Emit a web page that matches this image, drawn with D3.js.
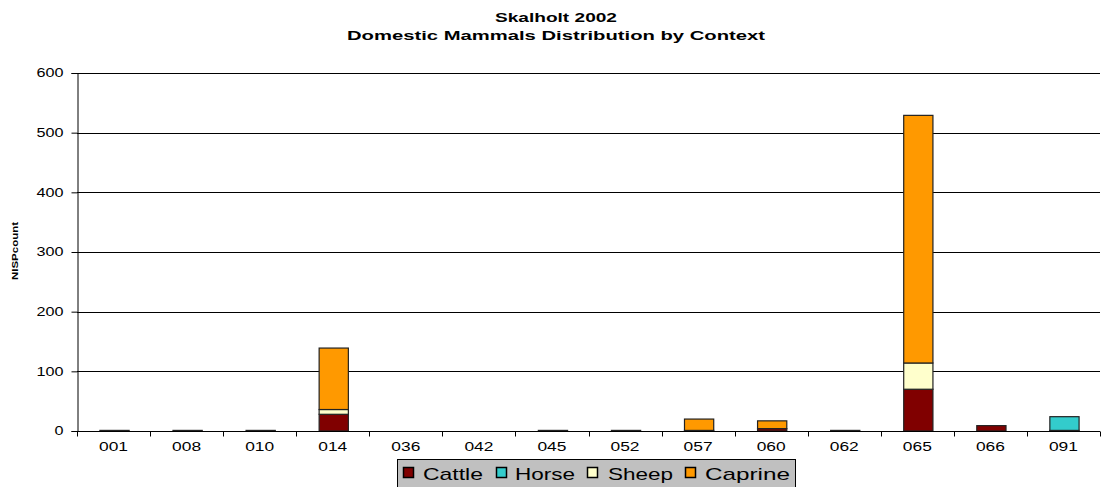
<!DOCTYPE html>
<html>
<head>
<meta charset="utf-8">
<script src="https://cdn.jsdelivr.net/npm/d3@7"></script>
<style>
  body { margin: 0; background: #fff; }
  text { font-family: Arial, "Liberation Sans", sans-serif; }
</style>
</head>
<body>
<svg width="1105" height="487"></svg>
<script>
// contexts and NISP counts
const contexts = ['001','008','010','014','036','042','045','052','057','060','062','065','066','091'];
const cattle  = [1, 1, 1, 28, 0, 0, 1, 1, 1, 4, 1, 70, 9, 1];
const horse   = [0, 0, 0, 0, 0, 0, 0, 0, 0, 0, 0, 0, 0, 23];
const sheep   = [0, 0, 0, 8, 0, 0, 0, 0, 0, 0, 0, 44, 0, 0];
const caprine = [0, 0, 0, 103, 0, 0, 0, 0, 19, 13, 0, 415, 0, 0];
const speciesNames = ['Cattle','Horse','Sheep','Caprine'];
const speciesColors = ['#800000','#33cccc','#ffffcc','#ff9900'];
const yTicks = [0,100,200,300,400,500,600];

const svg = d3.select('svg');
const mLeft = 77, mRight = 1100, mTop = 73, mBottom = 431;

const rows = contexts.map((c,i) => ({ctx:c, Cattle:cattle[i], Horse:horse[i], Sheep:sheep[i], Caprine:caprine[i]}));
const stacked = d3.stack().keys(speciesNames)(rows);

const x = d3.scaleBand().domain(contexts).range([mLeft, mRight]).paddingInner(0.6).paddingOuter(0.3);
const xb = d3.scaleBand().domain(contexts).range([mLeft, mRight]);
const y = d3.scaleLinear().domain([0,600]).range([mBottom, mTop]);

// title (the original text is drawn wide, so stretch it)
svg.append('text').attr('x', 556).attr('y', 22).attr('text-anchor','middle')
  .style('font-size','13px').style('font-weight','bold')
  .attr('textLength', 122).attr('lengthAdjust','spacingAndGlyphs').text('Skalholt 2002');
svg.append('text').attr('x', 556).attr('y', 40).attr('text-anchor','middle')
  .style('font-size','13px').style('font-weight','bold')
  .attr('textLength', 418).attr('lengthAdjust','spacingAndGlyphs').text('Domestic Mammals Distribution by Context');

// gridlines
svg.append('g').selectAll('line').data(yTicks.slice(1)).join('line')
  .attr('x1', mLeft).attr('x2', mRight)
  .attr('y1', d => Math.round(y(d)) + 0.5).attr('y2', d => Math.round(y(d)) + 0.5)
  .attr('stroke','#000').attr('stroke-width',1);

// bars
svg.append('g').selectAll('g').data(stacked).join('g')
  .attr('fill', (d,i) => speciesColors[i])
  .selectAll('rect').data(d => d.filter(s => s[1] > s[0])).join('rect')
  .attr('x', d => x(d.data.ctx) + 1)
  .attr('width', x.bandwidth())
  .attr('y', d => y(d[1]))
  .attr('height', d => y(d[0]) - y(d[1]))
  .attr('stroke','#222').attr('stroke-width',1.2);

// y axis
const yAxis = svg.append('g').attr('transform', `translate(${mLeft + 0.5},0)`)
  .call(d3.axisLeft(y).tickValues(yTicks).tickSize(6).tickPadding(8));
yAxis.select('.domain').attr('stroke','#000');
yAxis.selectAll('.tick line').attr('stroke','#000');
yAxis.selectAll('text').style('font-size','12px').attr('fill','#000')
  .style('font-family','Arial, "Liberation Sans", sans-serif')
  .attr('textLength', d => d === 0 ? 9 : 27).attr('lengthAdjust','spacingAndGlyphs');

// x axis
const xAxis = svg.append('g').attr('transform', `translate(0,${mBottom + 0.5})`);
xAxis.append('line').attr('x1', mLeft).attr('x2', mRight).attr('stroke','#000');
xAxis.selectAll('line.tk').data(contexts.concat(['end'])).join('line').attr('class','tk')
  .attr('x1', (d,i) => Math.round(mLeft + i * xb.bandwidth()) + 0.5)
  .attr('x2', (d,i) => Math.round(mLeft + i * xb.bandwidth()) + 0.5)
  .attr('y1', 0).attr('y2', 5).attr('stroke','#000');
xAxis.selectAll('text').data(contexts).join('text')
  .attr('x', d => xb(d) + xb.bandwidth()/2).attr('y', 19.5)
  .attr('text-anchor','middle').style('font-size','12px')
  .attr('textLength', 29).attr('lengthAdjust','spacingAndGlyphs').text(d => d);

// y label
svg.append('text').attr('transform','translate(18,251) rotate(-90)')
  .attr('text-anchor','middle').style('font-size','9px').style('font-weight','bold')
  .attr('textLength', 58).attr('lengthAdjust','spacingAndGlyphs').text('NISPcount');

// legend
const lg = svg.append('g').attr('transform','translate(397,459)');
lg.append('rect').attr('x',0.5).attr('y',0.5).attr('width',398).attr('height',28)
  .attr('fill','#c0c0c0').attr('stroke','#000');
const sqOffs = [6, 99, 190, 288];
const txOffs = [26, 118, 211, 308];
const txLens = [60, 60, 65, 85];
speciesNames.forEach((n,i) => {
  lg.append('rect').attr('x', sqOffs[i] + 0.5).attr('y', 8.5).attr('width', 10).attr('height', 10)
    .attr('fill', speciesColors[i]).attr('stroke','#000').attr('stroke-width',1.5);
  lg.append('text').attr('x', txOffs[i]).attr('y', 20.5).style('font-size','17px')
    .attr('textLength', txLens[i]).attr('lengthAdjust','spacingAndGlyphs').text(n);
});
</script>
</body>
</html>
